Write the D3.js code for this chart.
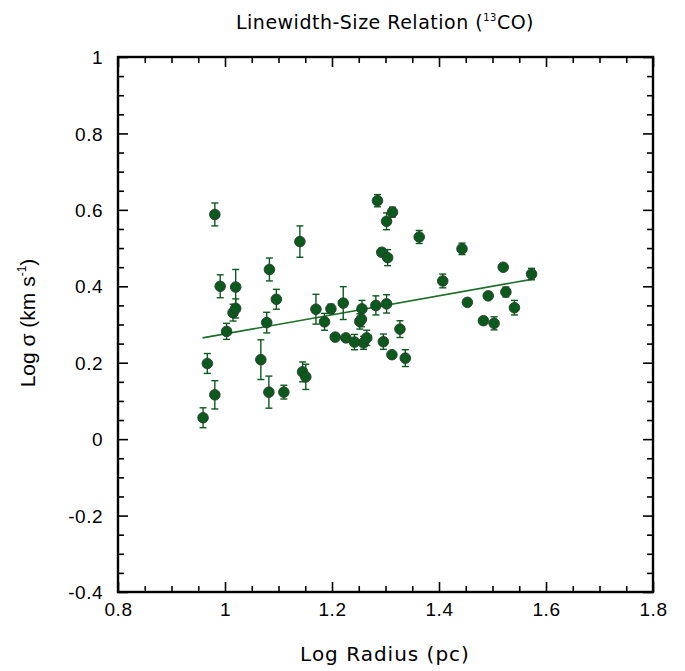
<!DOCTYPE html>
<html>
<head>
<meta charset="utf-8">
<script src="https://cdn.jsdelivr.net/npm/d3@7"></script>
<style>
  html, body { margin: 0; padding: 0; background: #fff; }
  svg { display: block; }
</style>
</head>
<body>
<svg id="chart" width="685" height="671"></svg>
<script>
// Cloud sizes (log pc), 13CO linewidths (log km/s) and their 1-sigma errors (0 = no bar)
const logRadius = [0.959, 0.967, 0.981, 0.981, 0.991, 1.003, 1.015, 1.020, 1.020, 1.067,
  1.078, 1.082, 1.083, 1.096, 1.110, 1.140, 1.145, 1.151, 1.170, 1.186,
  1.198, 1.206, 1.221, 1.226, 1.242, 1.252, 1.255, 1.256, 1.259, 1.265,
  1.282, 1.285, 1.293, 1.296, 1.302, 1.302, 1.304, 1.312, 1.313, 1.327,
  1.337, 1.363, 1.407, 1.443, 1.453, 1.483, 1.492, 1.503, 1.520, 1.525,
  1.541, 1.573];
const logSigma = [0.056, 0.198, 0.588, 0.116, 0.400, 0.282, 0.331, 0.342, 0.398, 0.208,
  0.305, 0.123, 0.444, 0.366, 0.123, 0.517, 0.176, 0.163, 0.340, 0.307,
  0.341, 0.267, 0.356, 0.265, 0.254, 0.308, 0.314, 0.341, 0.252, 0.265,
  0.350, 0.624, 0.489, 0.255, 0.570, 0.354, 0.475, 0.221, 0.594, 0.288,
  0.212, 0.529, 0.414, 0.498, 0.358, 0.310, 0.375, 0.303, 0.450, 0.385,
  0.344, 0.432];
const sigmaErr = [0.026, 0.026, 0.030, 0.037, 0.030, 0.021, 0.022, 0.025, 0.046, 0.052,
  0.027, 0.042, 0.030, 0.026, 0.018, 0.041, 0.026, 0.033, 0.039, 0.022,
  0.012, 0, 0.043, 0, 0.020, 0.020, 0.020, 0.022, 0.017, 0.020,
  0.025, 0.016, 0.010, 0.020, 0.022, 0.024, 0.021, 0, 0.013, 0.022,
  0.022, 0.017, 0.018, 0.015, 0, 0, 0, 0.017, 0, 0.013,
  0.019, 0.015];

// Least-squares fit: logSigma = intercept + slope * logRadius
const fitSlope = 0.249;
const fitIntercept = 0.0265;
const fitRange = [0.958, 1.573];

const xTicks = [0.8, 1, 1.2, 1.4, 1.6, 1.8];
const yTicks = [-0.4, -0.2, 0, 0.2, 0.4, 0.6, 0.8, 1];

const W = 685, H = 671;
const margin = { top: 57, right: 32, bottom: 79, left: 118 };
const iw = W - margin.left - margin.right;
const ih = H - margin.top - margin.bottom;

const green = "#0b5a1d";
const lineGreen = "#1f6e2a";
const tickFont = "'Liberation Sans', Arial, sans-serif";
const titleFont = "'DejaVu Sans', Verdana, sans-serif";

const svg = d3.select("#chart");
const g = svg.append("g").attr("transform", `translate(${margin.left},${margin.top})`);

const x = d3.scaleLinear().domain([0.8, 1.8]).range([0, iw]);
const y = d3.scaleLinear().domain([-0.4, 1]).range([ih, 0]);

// Plain hyphen for negatives, no trailing zeros
const fmt = d => String(+d.toFixed(1));

// Minor ticks every 0.05, major every 0.2, all drawn inward on every side
const minorX = d3.range(0.8, 1.8001, 0.05).map(v => +v.toFixed(2));
const minorY = d3.range(-0.4, 1.0001, 0.05).map(v => +v.toFixed(2));
const isMajor = (v, list) => list.some(t => Math.abs(t - v) < 1e-6);

function drawAxis(axis, transform) {
  const a = g.append("g").attr("transform", transform).call(axis);
  a.select(".domain").remove();
  a.selectAll(".tick line").attr("stroke", "#000").attr("stroke-width", 1.6);
  a.selectAll("text").remove();
  return a;
}

const majLen = 10, minLen = 6;
// bottom
drawAxis(d3.axisTop(x).tickValues(minorX).tickSizeOuter(0), `translate(0,${ih})`)
  .selectAll(".tick line").attr("y2", d => -(isMajor(d, xTicks) ? majLen : minLen));
// top
drawAxis(d3.axisBottom(x).tickValues(minorX).tickSizeOuter(0), `translate(0,0)`)
  .selectAll(".tick line").attr("y2", d => (isMajor(d, xTicks) ? majLen : minLen));
// left
drawAxis(d3.axisRight(y).tickValues(minorY).tickSizeOuter(0), `translate(0,0)`)
  .selectAll(".tick line").attr("x2", d => (isMajor(d, yTicks) ? majLen : minLen));
// right
drawAxis(d3.axisLeft(y).tickValues(minorY).tickSizeOuter(0), `translate(${iw},0)`)
  .selectAll(".tick line").attr("x2", d => -(isMajor(d, yTicks) ? majLen : minLen));

// Tick labels
const xl = d3.axisBottom(x).tickValues(xTicks).tickSize(0).tickPadding(0).tickFormat(fmt);
const xAxisG = g.append("g").attr("transform", `translate(0,${ih})`).call(xl);
xAxisG.select(".domain").remove();
xAxisG.selectAll("text").attr("font-family", tickFont).attr("font-size", 19)
  .attr("fill", "#000").attr("dy", "0").attr("y", 24).attr("letter-spacing", 0.5);

const yl = d3.axisLeft(y).tickValues(yTicks).tickSize(0).tickPadding(0).tickFormat(fmt);
const yAxisG = g.append("g").call(yl);
yAxisG.select(".domain").remove();
yAxisG.selectAll("text").attr("font-family", tickFont).attr("font-size", 19)
  .attr("fill", "#000").attr("x", -15).attr("dy", "0.35em").attr("letter-spacing", 0.5);

// Frame
g.append("rect").attr("x", 0).attr("y", 0).attr("width", iw).attr("height", ih)
  .attr("fill", "none").attr("stroke", "#000").attr("stroke-width", 2.4);

// Fit line
const fitLine = d3.line().x(d => x(d)).y(d => y(fitIntercept + fitSlope * d));
g.append("path").datum(fitRange).attr("d", fitLine)
  .attr("fill", "none").attr("stroke", lineGreen).attr("stroke-width", 1.6);

const pts = logRadius.map((r, i) => ({ r, s: logSigma[i], e: sigmaErr[i] }));

// Error bars
const eb = g.append("g").attr("stroke", green).attr("stroke-width", 1.4).attr("fill", "none");
pts.filter(d => d.e > 0).forEach(d => {
  const cx = x(d.r), y0 = y(d.s - d.e), y1 = y(d.s + d.e);
  eb.append("line").attr("x1", cx).attr("x2", cx).attr("y1", y0).attr("y2", y1);
  eb.append("line").attr("x1", cx - 3.5).attr("x2", cx + 3.5).attr("y1", y0).attr("y2", y0);
  eb.append("line").attr("x1", cx - 3.5).attr("x2", cx + 3.5).attr("y1", y1).attr("y2", y1);
});

// Markers
g.append("g").selectAll("circle").data(pts).join("circle")
  .attr("cx", d => x(d.r)).attr("cy", d => y(d.s)).attr("r", 5.3)
  .attr("fill", green).attr("stroke", "#2b3a2d").attr("stroke-width", 0.9);

// Title
const title = svg.append("text").attr("x", 385).attr("y", 29).attr("text-anchor", "middle")
  .attr("font-family", titleFont).attr("font-size", 19).attr("letter-spacing", 0.5).attr("fill", "#000");
title.append("tspan").text("Linewidth-Size Relation (");
title.append("tspan").attr("font-size", 10).attr("dy", -8).text("13");
title.append("tspan").attr("dy", 8).text("CO)");

// Axis titles
svg.append("text").attr("x", 385).attr("y", 661).attr("text-anchor", "middle")
  .attr("font-family", titleFont).attr("font-size", 20).attr("letter-spacing", 1).attr("fill", "#000")
  .text("Log Radius (pc)");

const yt = svg.append("text").attr("transform", "translate(35,323) rotate(-90)")
  .attr("text-anchor", "middle").attr("font-family", tickFont).attr("font-size", 21).attr("fill", "#000");
yt.append("tspan").text("Log σ (km s");
yt.append("tspan").attr("font-size", 12).attr("dy", -9).text("-1");
yt.append("tspan").attr("dy", 9).text(")");
</script>
</body>
</html>
